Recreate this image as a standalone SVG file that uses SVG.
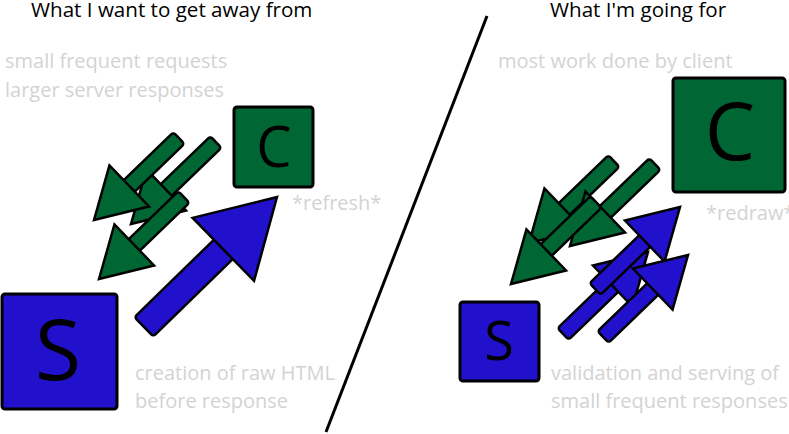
<svg xmlns="http://www.w3.org/2000/svg" xmlns:xlink="http://www.w3.org/1999/xlink" width="789" height="434" viewBox="0 0 789 434">
<style>
  .title { font-family: "Open Sans", "Liberation Sans", sans-serif; font-size: 20.6px; fill: #000; }
  .note { font-family: "Open Sans", "Liberation Sans", sans-serif; font-size: 20px; fill: #d3d3d3; }
  .letter { font-family: "Open Sans", "Liberation Sans", sans-serif; fill: #000; text-anchor: middle; }
  .box { stroke: #000; stroke-width: 3; }
  .green { fill: #006633; }
  .blue { fill: #2211cc; }
  .arr { stroke: #000; stroke-width: 2.5; stroke-linejoin: miter; }
</style>
<defs>
  <g id="smallArrow">
    <rect x="-118" y="-8" width="73" height="16" rx="3"/>
    <polygon points="-49,-28.5 0,0 -49,28.5"/>
  </g>
  <g id="bigArrow">
    <rect x="-186" y="-13.5" width="115" height="27" rx="3"/>
    <polygon points="-75,-44 0,0 -75,44"/>
  </g>
</defs>

<text class="title" x="31" y="17">What I want to get away from</text>
<text class="title" x="550" y="17">What I'm going for</text>

<line x1="487" y1="16" x2="326" y2="432" stroke="#000" stroke-width="3"/>

<text class="note" x="5" y="68">small frequent requests</text>
<text class="note" x="5" y="97">larger server responses</text>
<text class="note" x="292" y="210">*refresh*</text>
<text class="note" x="135" y="380">creation of raw HTML</text>
<text class="note" x="135" y="408">before response</text>

<text class="note" x="498" y="68">most work done by client</text>
<text class="note" x="706" y="220">*redraw*</text>
<text class="note" x="551" y="380">validation and serving of</text>
<text class="note" x="551" y="408">small frequent responses</text>

<g id="client-left">
  <rect class="box green" x="234" y="107" width="79" height="80" rx="3"/>
  <text class="letter" x="274" y="167" font-size="56">C</text>
</g>
<g id="server-left">
  <rect class="box blue" x="2" y="294" width="115" height="115" rx="3"/>
  <text class="letter" x="58" y="380" font-size="84">S</text>
</g>
<g id="client-right">
  <rect class="box green" x="673" y="78" width="112" height="114" rx="3"/>
  <text class="letter" x="730" y="160" font-size="80">C</text>
</g>
<g id="server-right">
  <rect class="box blue" x="460" y="302" width="79" height="79" rx="3"/>
  <text class="letter" x="499" y="360" font-size="54">S</text>
</g>

<g id="connectors" class="arr">
  <use xlink:href="#smallArrow" class="green" transform="translate(131,224) rotate(136)"/>
  <use xlink:href="#smallArrow" class="green" transform="translate(94,220) rotate(136)"/>
  <use xlink:href="#smallArrow" class="green" transform="translate(99,279) rotate(136)"/>
  <use xlink:href="#bigArrow" class="blue" transform="translate(277,197) rotate(-44.3)"/>

  <use xlink:href="#smallArrow" class="green" transform="translate(529,243) rotate(136)"/>
  <use xlink:href="#smallArrow" class="green" transform="translate(570,246) rotate(136)"/>
  <use xlink:href="#smallArrow" class="green" transform="translate(511,284) rotate(136)"/>
  <use xlink:href="#smallArrow" class="blue" transform="translate(648,252) rotate(-44)"/>
  <use xlink:href="#smallArrow" class="blue" transform="translate(680,207) rotate(-44)"/>
  <use xlink:href="#smallArrow" class="blue" transform="translate(688,255) rotate(-44)"/>
</g>
</svg>
